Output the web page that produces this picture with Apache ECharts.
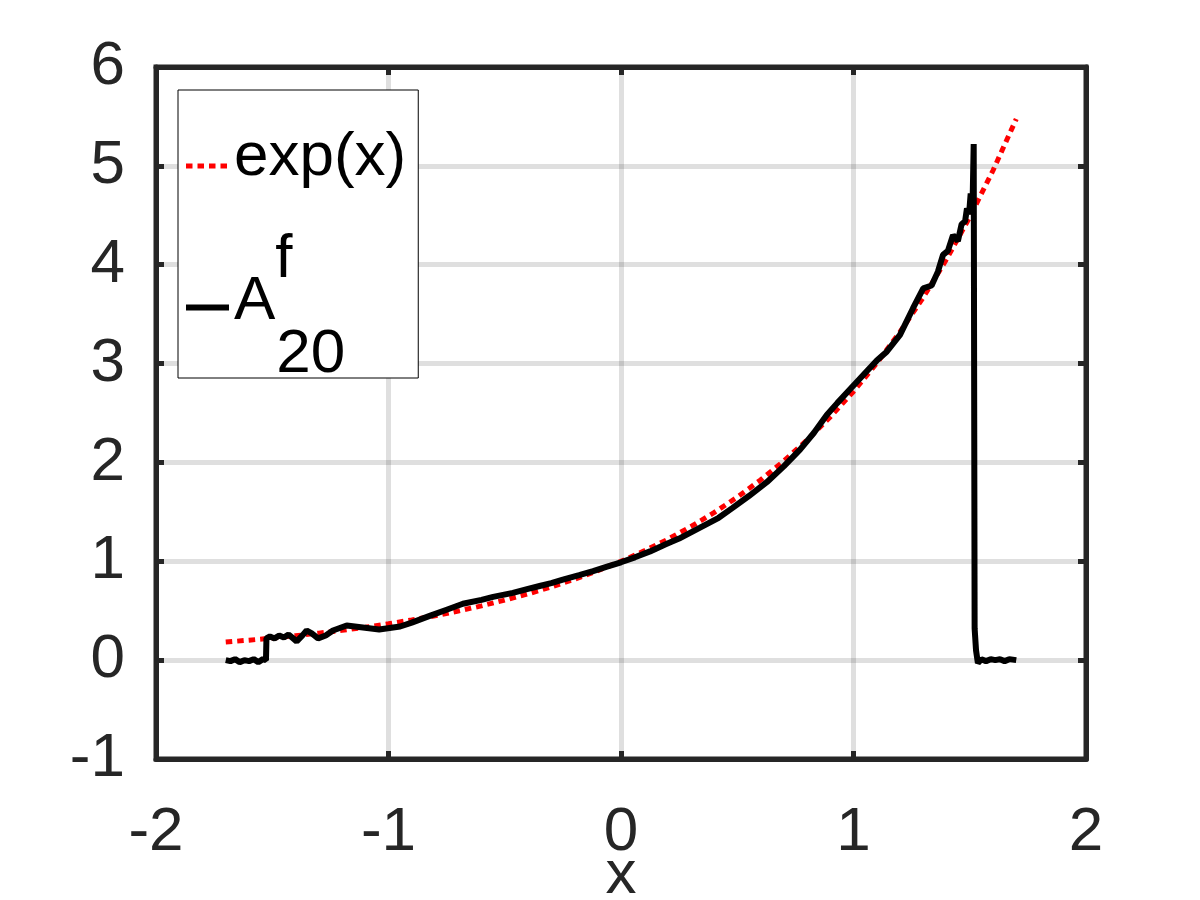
<!DOCTYPE html>
<html>
<head>
<meta charset="utf-8">
<script src="https://cdn.jsdelivr.net/npm/echarts@6/dist/echarts.min.js"></script>
<style>
html,body{margin:0;padding:0;background:#fff}
#c{width:1200px;height:900px}
</style>
</head>
<body>
<div id="c"></div>
<script>
// ---- data ----
const xRange = [-2, 2];
const yRange = [-1, 6];
const seriesNames = ['exp(x)', 'A_20^f'];

// red dotted curve: exp(x)
const expX = [-1.7,-1.6,-1.5,-1.4,-1.3,-1.2,-1.1,-1.0,-0.9,-0.8,-0.7,-0.6,-0.5,-0.4,-0.3,-0.2,-0.1,0,
  0.1,0.2,0.3,0.4,0.5,0.6,0.7,0.8,0.9,1.0,1.1,1.2,1.3,1.4,1.5,1.6,1.7];
const expY = [0.183,0.202,0.223,0.247,0.273,0.301,0.333,0.368,0.407,0.449,0.497,0.549,0.607,0.670,0.741,0.819,0.905,1.000,
  1.105,1.221,1.350,1.492,1.649,1.822,2.014,2.226,2.460,2.718,3.004,3.320,3.669,4.055,4.482,4.953,5.474];

// black curve: A^f_20 approximation
const approxX = [-1.70,-1.68,-1.66,-1.64,-1.62,-1.60,-1.58,-1.56,-1.54,-1.527,-1.525,-1.51,-1.49,-1.47,-1.45,-1.43,-1.41,
  -1.395,-1.37,-1.352,-1.33,-1.303,-1.27,-1.239,-1.18,-1.11,-1.04,-0.95,-0.90,-0.82,-0.75,-0.68,-0.60,-0.55,-0.465,-0.40,
  -0.35,-0.30,-0.25,-0.18,-0.12,-0.06,0.00,0.06,0.125,0.19,0.25,0.34,0.42,0.48,0.55,0.627,0.70,0.77,0.83,0.885,0.93,0.985,
  1.06,1.10,1.143,1.20,1.256,1.30,1.336,1.363,1.385,1.406,1.428,1.449,1.465,1.48,
  1.488,1.497,1.504,1.512,1.517,1.521,1.527,1.535,1.55,1.57,1.59,1.61,1.63,1.65,1.67,1.70];
const approxY = [0.00,-0.01,0.01,-0.02,0.00,-0.01,0.01,-0.02,0.01,0.00,0.22,0.24,0.22,0.25,0.23,0.26,0.22,
  0.19,0.25,0.30,0.27,0.22,0.25,0.30,0.35,0.33,0.31,0.34,0.38,0.45,0.51,0.57,0.61,0.64,0.68,0.72,
  0.75,0.78,0.815,0.86,0.90,0.945,0.99,1.04,1.10,1.17,1.23,1.34,1.44,1.54,1.66,1.80,1.96,2.13,2.30,2.48,2.60,2.74,
  2.93,3.03,3.12,3.29,3.56,3.76,3.79,3.93,4.10,4.14,4.30,4.24,4.41,4.44,
  4.57,4.51,4.72,4.60,5.22,0.32,0.10,-0.03,0.01,-0.01,0.01,0.00,0.01,-0.01,0.01,0.00];

const zip = (xs, ys) => xs.map((x, i) => [x, ys[i]]);

// ---- styling ----
const FONT = 'Liberation Sans';
const AX = '#262626';
const GRIDC = 'rgba(38,38,38,0.15)';
const RED_LINE = { color: '#ff0000', width: 5, type: [6.5, 5], cap: 'butt' };
const BLACK_LINE = { color: '#000', width: 6 };

function mkX(pos, main) {
  return {
    type: 'value', min: xRange[0], max: xRange[1], interval: 1, position: pos,
    axisLine: { show: true, onZero: false, lineStyle: { color: AX, width: 5 } },
    axisTick: { show: true, inside: true, length: 8, lineStyle: { color: AX, width: 5 } },
    axisLabel: { show: main, color: AX, fontSize: 62, fontFamily: FONT, margin: 43 },
    splitLine: { show: main, lineStyle: { color: GRIDC, width: 5 } },
    name: main ? 'x' : '', nameLocation: 'middle', nameGap: 86, nameMoveOverlap: false,
    nameTextStyle: { color: AX, fontSize: 62, fontFamily: FONT }
  };
}
function mkY(pos, main) {
  return {
    type: 'value', min: yRange[0], max: yRange[1], interval: 1, position: pos,
    axisLine: { show: true, onZero: false, lineStyle: { color: AX, width: 5 } },
    axisTick: { show: true, inside: true, length: 8, lineStyle: { color: AX, width: 5 } },
    axisLabel: { show: main, color: AX, fontSize: 62, fontFamily: FONT, margin: 31 },
    splitLine: { show: main, lineStyle: { color: GRIDC, width: 5 } }
  };
}

const chart = echarts.init(document.getElementById('c'), null, { renderer: 'canvas' });
chart.setOption({
  animation: false,
  backgroundColor: '#fff',
  grid: {
    left: 156, right: 114, top: 67, bottom: 141,
    show: true, borderColor: AX, borderWidth: 5,
    outerBoundsMode: 'none', containLabel: false
  },
  xAxis: [mkX('bottom', true), mkX('top', false)],
  yAxis: [mkY('left', true), mkY('right', false)],
  legend: {
    left: 178, top: 90, orient: 'vertical',
    padding: [37, 12, -8, 5],
    itemGap: 24, itemWidth: 43, itemHeight: 14,
    backgroundColor: '#fff', borderColor: '#000', borderWidth: 1, borderRadius: 0,
    selectedMode: false,
    itemStyle: { opacity: 0 },
    data: [
      { name: seriesNames[0], lineStyle: RED_LINE },
      { name: seriesNames[1], lineStyle: BLACK_LINE }
    ],
    formatter: function (name) {
      return name === seriesNames[0] ? '{e|exp(x)}' : '{a|A}{f|f}{s|20}';
    },
    textStyle: {
      color: '#000', fontFamily: FONT, fontSize: 62,
      rich: {
        e: { color: '#000', fontFamily: FONT, fontSize: 62, lineHeight: 62, padding: [0, 0, 16, 0] },
        a: { color: '#000', fontFamily: FONT, fontSize: 62, lineHeight: 157, padding: [0, 0, 12, 0] },
        f: { color: '#000', fontFamily: FONT, fontSize: 62, lineHeight: 68, verticalAlign: 'top', width: 1 },
        s: { color: '#000', fontFamily: FONT, fontSize: 62, lineHeight: 48, verticalAlign: 'bottom' }
      }
    }
  },
  series: [
    {
      name: seriesNames[0], type: 'line', data: zip(expX, expY),
      symbol: 'none', smooth: false, silent: true,
      lineStyle: RED_LINE, itemStyle: { color: '#ff0000' }
    },
    {
      name: seriesNames[1], type: 'line', data: zip(approxX, approxY),
      symbol: 'none', smooth: false, silent: true,
      lineStyle: BLACK_LINE, itemStyle: { color: '#000' }
    }
  ]
});
</script>
</body>
</html>
